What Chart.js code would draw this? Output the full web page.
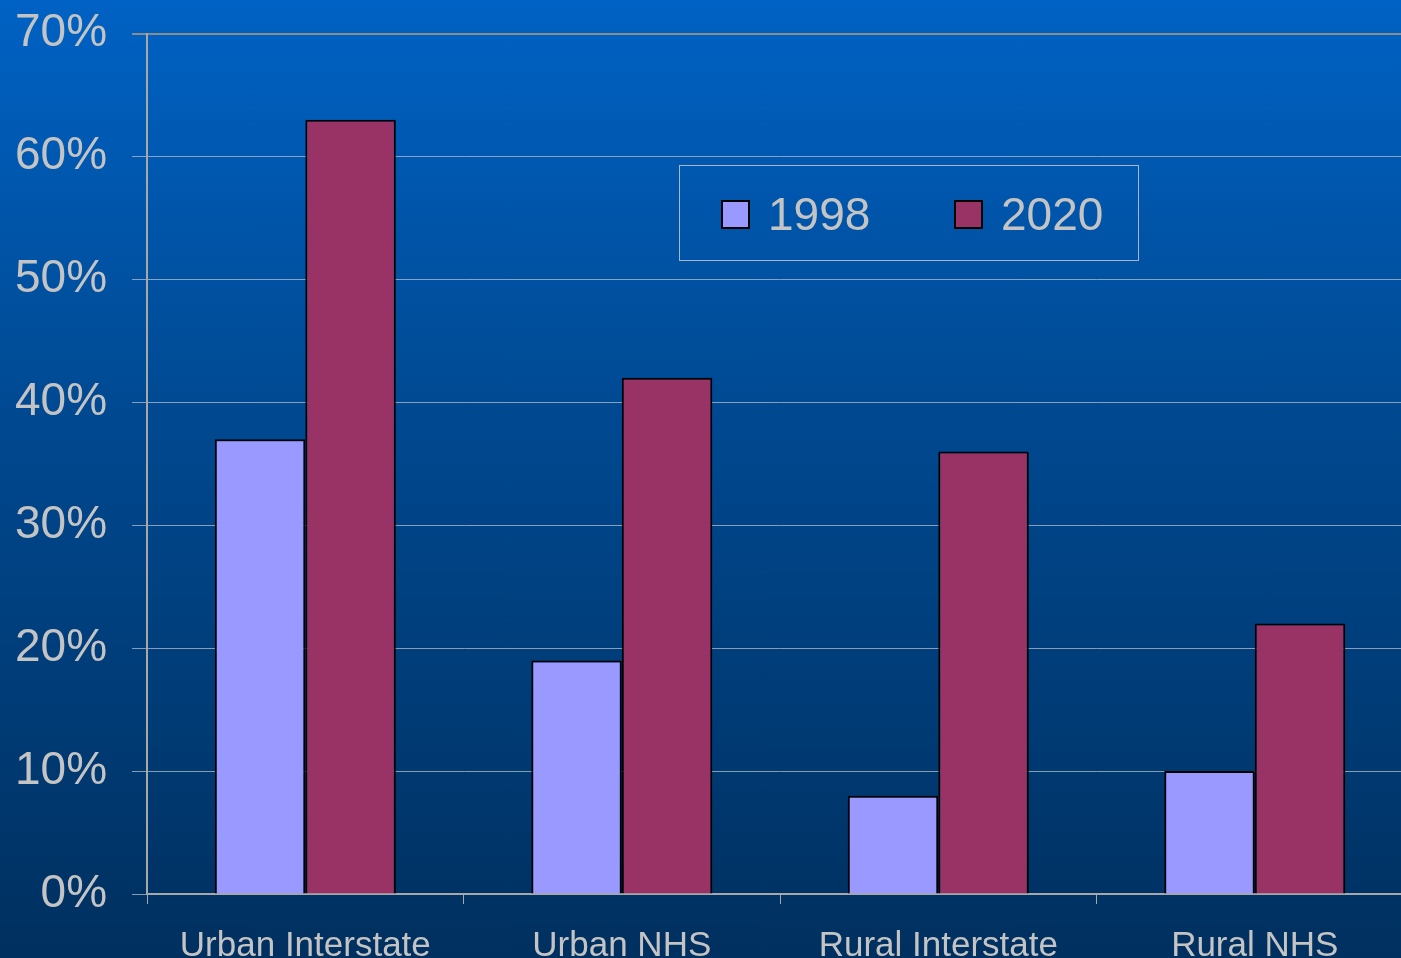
<!DOCTYPE html>
<html>
<head>
<meta charset="utf-8">
<script src="https://cdn.jsdelivr.net/npm/chart.js@4.4.1/dist/chart.umd.min.js"></script>
<style>
  html, body { margin: 0; padding: 0; width: 1401px; height: 958px; overflow: hidden; }
  body { background: linear-gradient(to bottom, #0062c4 0%, #00488f 45%, #00305f 100%); position: relative; font-family: "Liberation Sans", Arial, sans-serif; }
  #wrap { position: absolute; left: -10px; top: -19px; width: 1423px; height: 1007px; }
  #legend { position: absolute; left: 679px; top: 165px; width: 460px; height: 96px; border: 1px solid #a9b6c8; box-sizing: border-box; }
  .item { position: absolute; top: 0; height: 96px; display: flex; align-items: center; color: #c4c4c4; font-size: 46px; }
  .sw { width: 25px; height: 25px; border: 2px solid #000; margin-right: 18px; }
</style>
</head>
<body>
<div id="wrap"><canvas id="c" width="1423" height="1007"></canvas></div>
<div id="legend"></div>
<script>
const categories = ["Urban Interstate", "Urban NHS", "Rural Interstate", "Rural NHS"];
const seriesNames = ["1998", "2020"];
const values1998 = [37, 19, 8, 10];
const values2020 = [63, 42, 36, 22];
const yTicks = [0, 10, 20, 30, 40, 50, 60, 70];
const colors = ["#9999ff", "#993366"];

const textColor = "#c4c4c4";
const chart = new Chart(document.getElementById("c"), {
  type: "bar",
  data: {
    labels: categories,
    datasets: [
      { label: seriesNames[0], data: values1998, backgroundColor: colors[0], borderColor: "#000", borderWidth: 2 },
      { label: seriesNames[1], data: values2020, backgroundColor: colors[1], borderColor: "#000", borderWidth: 2 }
    ]
  },
  options: {
    responsive: false,
    animation: false,
    layout: { padding: { top: 14, left: 0, right: 0, bottom: 0 } },
    plugins: { legend: { display: false }, tooltip: { enabled: false } },
    datasets: { bar: { categoryPercentage: 0.572, barPercentage: 1.0 } },
    scales: {
      x: {
        grid: { offset: true, drawOnChartArea: false, tickLength: 10, color: "#a8a8a8", lineWidth: 1 },
        border: { color: "#a8a8a8", width: 2 },
        ticks: { color: textColor, font: { family: "'Liberation Sans', Arial", size: 35 }, padding: 21, maxRotation: 0 }
      },
      y: {
        min: 0, max: 70,
        afterBuildTicks: (axis) => { axis.ticks = yTicks.map(v => ({ value: v })); },
        grid: {
          tickLength: 15,
          color: (ctx) => ctx.tick && ctx.tick.value === 70 ? "#8c8c8c" : "rgba(180,190,205,0.75)",
          lineWidth: (ctx) => ctx.tick && ctx.tick.value === 70 ? 2 : 1
        },
        border: { color: "#a8a8a8", width: 2 },
        ticks: {
          color: textColor, padding: 25,
          font: { family: "'Liberation Sans', Arial", size: 46 },
          callback: (v) => v + "%"
        }
      }
    }
  }
});

// Build legend from chart datasets
const legend = document.getElementById("legend");
const lefts = [41, 274];
chart.data.datasets.forEach((ds, i) => {
  const it = document.createElement("div");
  it.className = "item";
  it.style.left = lefts[i] + "px";
  const sw = document.createElement("div");
  sw.className = "sw";
  sw.style.background = ds.backgroundColor;
  const tx = document.createElement("span");
  tx.textContent = ds.label;
  it.appendChild(sw); it.appendChild(tx);
  legend.appendChild(it);
});
</script>
</body>
</html>
